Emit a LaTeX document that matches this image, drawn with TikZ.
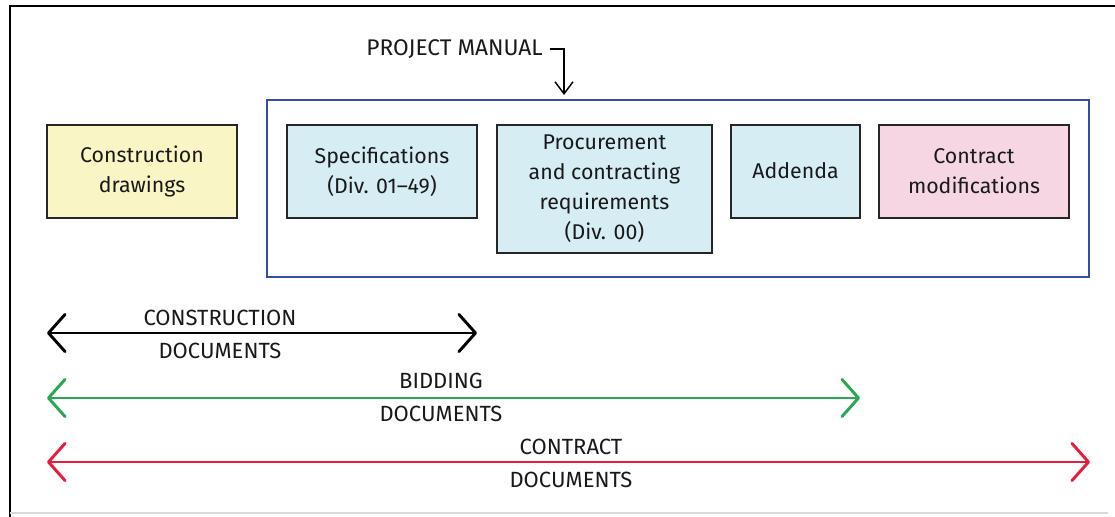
\documentclass[tikz,border=0pt]{standalone}
\usepackage{fontspec}
\setmainfont{Fira Sans}
\usetikzlibrary{arrows.meta}
\definecolor{paleyellow}{RGB}{250,245,196}
\definecolor{paleblue}{RGB}{214,237,244}
\definecolor{palepink}{RGB}{245,214,226}
\definecolor{manualblue}{RGB}{48,78,170}
\definecolor{bidgreen}{RGB}{40,168,80}
\definecolor{contractred}{RGB}{232,28,60}
\newcommand\pxu{0.75pt}
\tikzset{
  docbox/.style={draw=black!85, line width=1.4pt, align=center, inner sep=0pt,
    font=\fontsize{16}{22.5}\selectfont, text=black!90},
  caplabel/.style={align=center, inner sep=0pt,
    font=\fontsize{16.5}{24.75}\selectfont, text=black!90},
  chev/.tip={Straight Barb[length=12.5pt, width=28pt, line cap=round, line join=round]},
  span/.style={line width=2.2pt, line cap=round, chev-chev},
}
\begin{document}
\begin{tikzpicture}[x=\pxu, y=-\pxu]
\useasboundingbox (0,0) rectangle (1115,517);
\fill[white] (0,0) rectangle (1115,517);

% outer frame
\draw[line width=2pt, black] (10,517) -- (10,6) -- (1115,6);
\draw[line width=0.8pt, black!15] (10,513) -- (1108,513);

% project manual frame and its parts
\node[draw=manualblue, line width=1.8pt, minimum width=822*\pxu, minimum height=177*\pxu, inner sep=0pt]
  (manual) at (678,188.5) {};
\node[docbox, fill=paleyellow, minimum width=190*\pxu, minimum height=93*\pxu]
  (drawings) at (142,171.5) {Construction\\drawings};
\node[docbox, fill=paleblue, minimum width=190*\pxu, minimum height=93*\pxu]
  (specs) at (382,171.5) {Specifications\\(Div. 01--49)};
\node[docbox, fill=paleblue, minimum width=215*\pxu, minimum height=128*\pxu]
  (procure) at (604.5,189) {Procurement\\and contracting\\requirements\\(Div. 00)};
\node[docbox, fill=paleblue, minimum width=129*\pxu, minimum height=93*\pxu]
  (addenda) at (795.5,171.5) {\raisebox{1.5pt}{Addenda}};
\node[docbox, fill=palepink, minimum width=190*\pxu, minimum height=93*\pxu]
  (mods) at (974,171.5) {Contract\\modifications};

% project manual label and pointer
\node[caplabel, font=\fontsize{17}{20}\selectfont, anchor=east] (pmlabel) at (543,49.5) {PROJECT MANUAL};
\coordinate (pmbend) at (564,49);
\coordinate (pmtip) at (564,95);
\draw[line width=1.1pt, -{Straight Barb[length=9pt, width=13.5pt]}]
  ([xshift=5pt]pmlabel.east |- pmbend) -- (pmbend) -- (pmtip);

% document sets
\coordinate (cdL) at (47,333);  \coordinate (cdR) at (477,333);
\coordinate (bdL) at (47,398);  \coordinate (bdR) at (860,398);
\coordinate (ctL) at (47,462);  \coordinate (ctR) at (1090,462);
\draw[span, black] (cdL) -- (cdR);
\draw[span, bidgreen] (bdL) -- (bdR);
\draw[span, contractred] (ctL) -- (ctR);

\node[caplabel] (cdtext) at (220,334) {CONSTRUCTION\\DOCUMENTS};
\node[caplabel] (bdtext) at (441,397) {BIDDING\\DOCUMENTS};
\node[caplabel] (cttext) at (571,463) {CONTRACT\\DOCUMENTS};
\end{tikzpicture}
\end{document}
